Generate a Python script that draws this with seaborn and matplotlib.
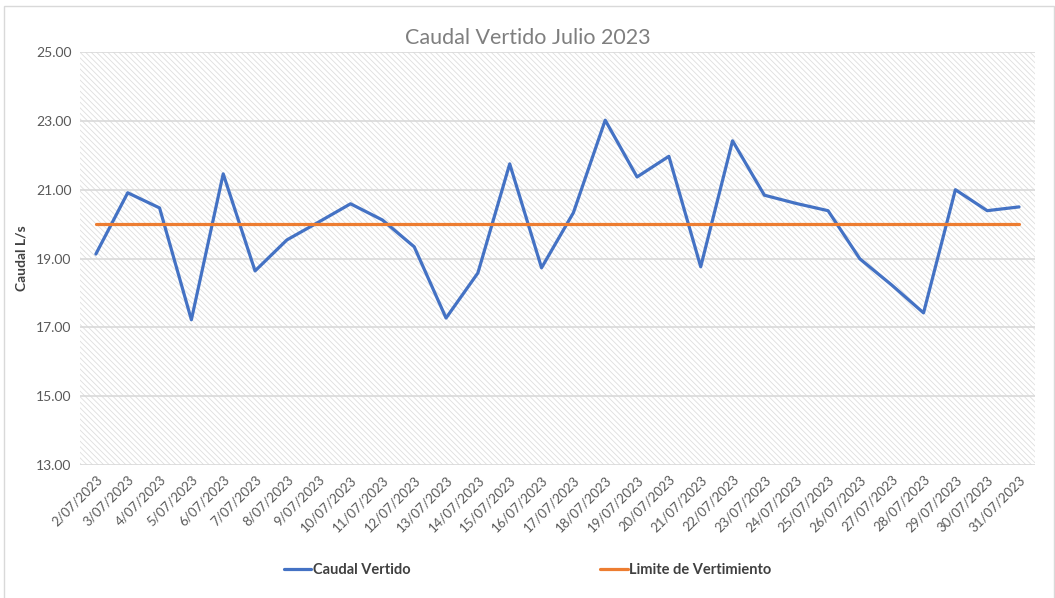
import numpy as np
import pandas as pd
import seaborn as sns
import matplotlib.pyplot as plt
from matplotlib.patches import Rectangle

dias = [f"{d}/07/2023" for d in range(2, 32)]
caudal_vertido = [19.13, 20.91, 20.47, 17.22, 21.46, 18.64, 19.54, 20.06, 20.59, 20.12,
                  19.34, 17.27, 18.58, 21.75, 18.73, 20.33, 23.02, 21.37, 21.97, 18.76,
                  22.42, 20.84, 20.60, 20.39, 18.99, 18.23, 17.42, 21.00, 20.39, 20.50]
limite = [20.0] * len(dias)
y_ticks = [13, 15, 17, 19, 21, 23, 25]

sns.set_theme(style="white")
plt.rcParams['font.family'] = ['Lato', 'DejaVu Sans']
plt.rcParams['hatch.linewidth'] = 0.6

df = pd.DataFrame({
    "idx": list(range(len(dias))) * 2,
    "valor": caudal_vertido + limite,
    "serie": ["Caudal Vertido"] * len(dias) + ["Limite de Vertimiento"] * len(dias),
})

fig = plt.figure(figsize=(10.55, 5.98), dpi=100)
ax = fig.add_axes([0.0758, 0.2224, 0.9052, 0.6906])

# hatched plot background
ax.add_patch(Rectangle((0, 0), 1, 1, transform=ax.transAxes, fill=False,
                       hatch='\\\\\\\\\\\\', edgecolor='#dedede', lw=0, zorder=0))
for v in y_ticks:
    ax.axhline(v, color='#d9d9d9', lw=1.2, zorder=1)

sns.lineplot(data=df, x="idx", y="valor", hue="serie", ax=ax,
             palette={"Caudal Vertido": "#4472C4", "Limite de Vertimiento": "#ED7D31"},
             linewidth=2.3, zorder=3)

ax.set_xlim(-0.5, len(dias) - 0.5)
ax.set_ylim(13, 25)
ax.set_yticks(y_ticks)
ax.set_yticklabels([f"{v:.2f}" for v in y_ticks], color='#595959', fontsize=10)
ax.set_xticks(range(len(dias)))
ax.set_xticklabels(dias, rotation=45, ha='right', rotation_mode='anchor',
                   color='#595959', fontsize=9.5)
ax.tick_params(axis='both', length=0, pad=6)
ax.set_xlabel("")
ax.set_ylabel("Caudal L/s", color='#404040', fontsize=10, fontweight='bold', labelpad=6)
for s in ax.spines.values():
    s.set_visible(False)

fig.text(0.5, 0.936, "Caudal Vertido Julio 2023", color='#7f7f7f', fontsize=15.5,
         ha='center', va='center')

h, l = ax.get_legend_handles_labels()
ax.get_legend().remove()
fig.legend(h, l, loc='center', bbox_to_anchor=(0.5, 0.047), ncol=2, frameon=False,
           columnspacing=13, handlelength=1.9, handletextpad=0.1,
           prop={'size': 10.5, 'weight': 'bold'}, labelcolor='#404040')

# chart outer border
fig.add_artist(Rectangle((0.004, -0.01), 0.995, 1.0, transform=fig.transFigure,
                         fill=False, edgecolor='#d9d9d9', lw=1))

fig.savefig("out.png", dpi=100)
